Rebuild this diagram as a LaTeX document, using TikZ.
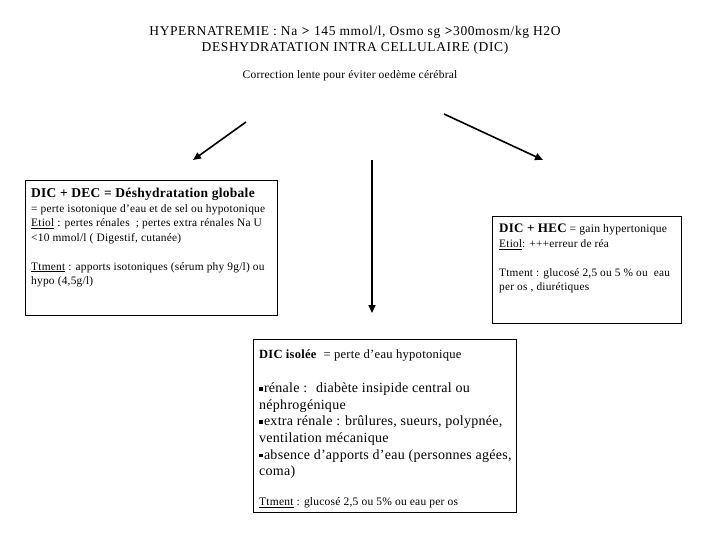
\documentclass[tikz,border=0pt]{standalone}
\usepackage{fontspec}
\setmainfont{Liberation Serif}[LetterSpace=2]
\usetikzlibrary{arrows.meta}
\newcommand{\sqbullet}{\rule[0.28ex]{3.6pt}{3.6pt}\hspace{1.2pt}}
\begin{document}
\begin{tikzpicture}[x=1pt,y=-1pt,
  boxframe/.style={draw,line width=0.8pt,inner sep=0pt,anchor=north west},
  boxtext/.style={anchor=north west,inner sep=0pt,align=left},
  titletext/.style={anchor=base,inner sep=0pt,font=\fontsize{13.5}{15}\selectfont\addfontfeatures{LetterSpace=4.5}},
  arr/.style={line width=1.6pt,-{Triangle[length=8pt,width=7pt]}}]
\useasboundingbox (0,0) rectangle (720,540);
% titles
\node[titletext] (t1) at (355,36) {HYPERNATREMIE : Na \textbf{>} 145 mmol/l, Osmo sg \textbf{>}300mosm/kg H2O};
\node[titletext] (t2) at (355,52) {DESHYDRATATION INTRA CELLULAIRE (DIC)};
\node[anchor=base,inner sep=0pt,font=\fontsize{11.5}{13}\selectfont] (sub) at (350,79) {Correction lente pour éviter oedème cérébral};
% boxes
\node[boxframe,minimum width=252pt,minimum height=135pt] (dec) at (25,180) {};
\node[boxframe,minimum width=189pt,minimum height=107pt] (hec) at (492,216) {};
\node[boxframe,minimum width=263pt,minimum height=173pt] (iso) at (253,339) {};
% box texts
\node[boxtext,font=\fontsize{11.4}{14.5}\selectfont] (dect) at (31,188) {%
{\fontsize{13.5}{14.5}\selectfont\bfseries DIC + DEC = Déshydratation globale}\\
= perte isotonique d’eau et de sel ou hypotonique\\
\underline{Etiol} : pertes rénales \ ; pertes extra rénales Na U\\
<10 mmol/l ( Digestif, cutanée)\\[14.5pt]
\underline{Ttment} : apports isotoniques (sérum phy 9g/l) ou\\
hypo (4,5g/l)};
\node[boxtext,font=\fontsize{11.35}{14.5}\selectfont] (hect) at (499,224) {%
{\fontsize{13}{14.5}\selectfont\bfseries DIC + HEC} {\fontsize{11.6}{14.5}\selectfont = gain hypertonique}\\
\underline{Etiol}: +++erreur de réa\\[14.5pt]
Ttment : glucosé 2,5 ou 5 \% ou \ eau\\
per os , diurétiques};
\node[boxtext,font=\fontsize{14}{16.7}\selectfont] (isot) at (259,350) {%
{\fontsize{12.5}{16.7}\selectfont\bfseries DIC isolée} {\fontsize{12.6}{16.7}\selectfont\ = perte d’eau hypotonique}\\[16.7pt]
\sqbullet rénale : \ diabète insipide central ou\\
néphrogénique\\
\sqbullet extra rénale : brûlures, sueurs, polypnée,\\
ventilation mécanique\\
\sqbullet absence d’apports d’eau (personnes agées,\\
coma)\\[13pt]
{\fontsize{11.5}{14}\selectfont\underline{Ttment} : glucosé 2,5 ou 5\% ou eau per os}};
% arrows
\coordinate (a1s) at (246,122); \coordinate (a1e) at (193,160);
\coordinate (a2s) at (372,160); \coordinate (a2e) at (372,313);
\coordinate (a3s) at (444,114); \coordinate (a3e) at (543,160);
\draw[arr] (a1s) -- (a1e);
\draw[arr] (a2s) -- (a2e);
\draw[arr] (a3s) -- (a3e);
\end{tikzpicture}
\end{document}
